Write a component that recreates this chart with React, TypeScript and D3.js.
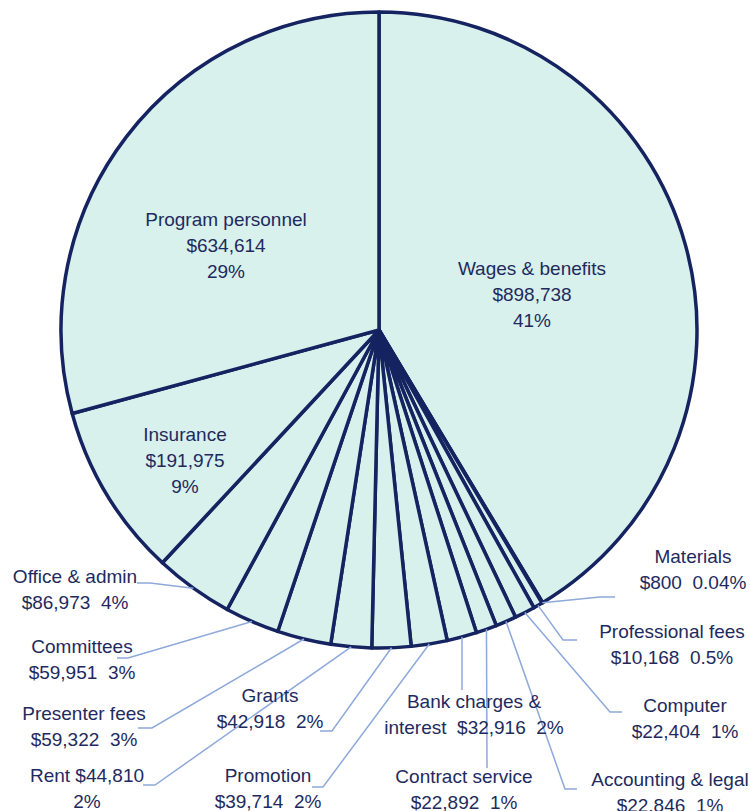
import React from "react";
import * as d3 from "d3";

const categories = [
  "Wages & benefits",
  "Materials",
  "Professional fees",
  "Computer",
  "Accounting & legal",
  "Contract service",
  "Bank charges & interest",
  "Promotion",
  "Grants",
  "Rent",
  "Presenter fees",
  "Committees",
  "Office & admin",
  "Insurance",
  "Program personnel",
];

const values = [
  898738, 800, 10168, 22404, 22846, 22892, 32916, 39714, 42918, 44810, 59322,
  59951, 86973, 191975, 634614,
];

const percentLabels = [
  "41%", "0.04%", "0.5%", "1%", "1%", "1%", "2%", "2%", "2%", "2%", "3%",
  "3%", "4%", "9%", "29%",
];

// label text lines (display)
const labelLines: string[][] = [
  ["Wages & benefits", "$898,738", "41%"],
  ["Materials", "$800  0.04%"],
  ["Professional fees", "$10,168  0.5%"],
  ["Computer", "$22,404  1%"],
  ["Accounting & legal", "$22,846  1%"],
  ["Contract service", "$22,892  1%"],
  ["Bank charges &", "interest  $32,916  2%"],
  ["Promotion", "$39,714  2%"],
  ["Grants", "$42,918  2%"],
  ["Rent $44,810", "2%"],
  ["Presenter fees", "$59,322  3%"],
  ["Committees", "$59,951  3%"],
  ["Office & admin", "$86,973  4%"],
  ["Insurance", "$191,975", "9%"],
  ["Program personnel", "$634,614", "29%"],
];

// layout: label center x, first line center y, and leader elbow/end (null = inside)
const labelLayout: { x: number; y: number; elbow?: [number, number]; end?: [number, number] }[] = [
  { x: 532, y: 268 },
  { x: 693, y: 556, elbow: [600, 597], end: [615, 597] },
  { x: 672, y: 631, elbow: [563, 640], end: [577, 640] },
  { x: 685, y: 705, elbow: [610, 712], end: [622, 712] },
  { x: 670, y: 779, elbow: [565, 789], end: [577, 789] },
  { x: 464, y: 776, elbow: [487, 768], end: [487, 768] },
  { x: 474, y: 701, elbow: [462, 690], end: [462, 690] },
  { x: 268, y: 775, elbow: [323, 787], end: [312, 787] },
  { x: 270, y: 695, elbow: [332, 731], end: [320, 731] },
  { x: 87, y: 775, elbow: [155, 785], end: [143, 785] },
  { x: 84, y: 713, elbow: [152, 728], end: [138, 728] },
  { x: 82, y: 646, elbow: [128, 658], end: [117, 658] },
  { x: 75, y: 576, elbow: [150, 583], end: [137, 583] },
  { x: 185, y: 434 },
  { x: 226, y: 219 },
];

const W = 750;
const H = 811;
const CX = 379;
const CY = 330;
const R = 318;

const FILL = "#D8F1EC";
const STROKE = "#152361";
const TEXT = "#1E2A5E";
const LEADER = "#8EA9DB";
const FONT = "'Liberation Sans', Arial, sans-serif";

export default function App() {
  const data = categories.map((c, i) => ({ name: c, value: values[i], pct: percentLabels[i], i }));
  const pie = d3
    .pie<any>()
    .value((d) => d.value)
    .sort(null)
    .startAngle(0)
    .endAngle(2 * Math.PI);
  const arcs = pie(data);
  const arc = d3.arc<any>().innerRadius(0).outerRadius(R);

  return (
    <svg
      width={W}
      height={H}
      style={{ position: "absolute", left: 0, top: 0, display: "block" }}
    >
      <rect width={W} height={H} fill="#ffffff" />
      <g transform={`translate(${CX},${CY})`}>
        {arcs.map((a, i) => (
          <path
            key={i}
            d={arc(a) || ""}
            fill={FILL}
            stroke={STROKE}
            strokeWidth={3.5}
            strokeLinejoin="round"
          />
        ))}
      </g>
      {arcs.map((a, i) => {
        const lay = labelLayout[i];
        if (!lay.elbow || !lay.end) return null;
        const mid = (a.startAngle + a.endAngle) / 2;
        const sx = CX + R * Math.sin(mid);
        const sy = CY - R * Math.cos(mid);
        const line = d3.line()([[sx, sy], lay.elbow, lay.end]);
        return (
          <path key={"l" + i} d={line || ""} fill="none" stroke={LEADER} strokeWidth={1.5} />
        );
      })}
      {labelLines.map((lines, i) => {
        const lay = labelLayout[i];
        return (
          <text
            key={"t" + i}
            fontFamily={FONT}
            fontSize={19}
            fill={TEXT}
            textAnchor="middle"
            style={{ whiteSpace: "pre" }}
          >
            {lines.map((ln, j) => (
              <tspan key={j} x={lay.x} y={lay.y + j * 26.3} dy="0.35em">
                {ln}
              </tspan>
            ))}
          </text>
        );
      })}
    </svg>
  );
}
